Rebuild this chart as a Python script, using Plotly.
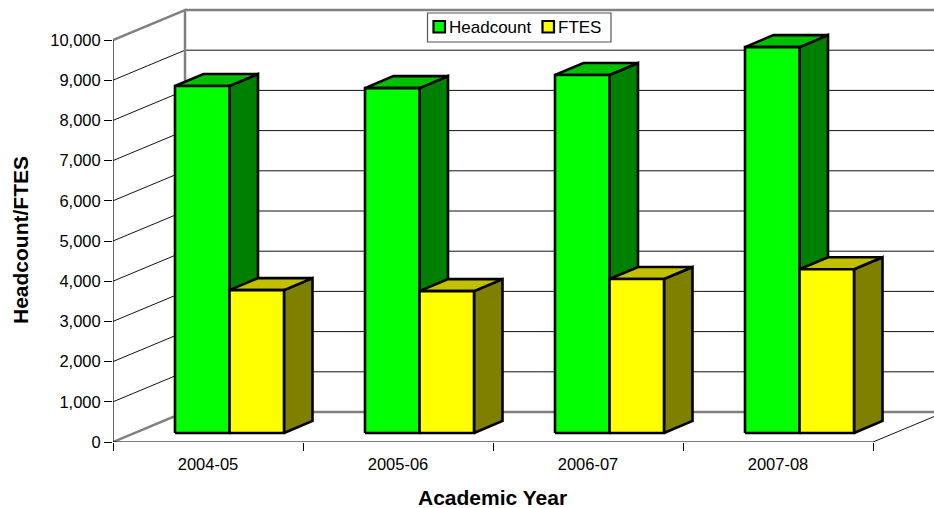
import plotly.graph_objects as go

categories = ["2004-05", "2005-06", "2006-07", "2007-08"]
headcount = [8630, 8580, 8905, 9600]
ftes = [3555, 3530, 3830, 4075]
series_names = ["Headcount", "FTES"]
y_ticks = list(range(0, 10001, 1000))

W, H = 934, 508
LEFT, BOTTOM_PX = 113, 442
PX_SLOT = 190.0
PX_UNIT = 0.0402


def ux(px):
    return px / PX_SLOT


def uy(px):
    return px / PX_UNIT


def px_x(px):
    return (px - LEFT) / (W - LEFT)


def px_y(py):
    return 1 - py / BOTTOM_PX


x_max = ux(W - LEFT)
y_max = uy(BOTTOM_PX)
wall_dx, wall_dy = ux(72), uy(30)
bar_w = ux(54.5)
bar_off = ux(62)
base = uy(9)
depth_dx, depth_dy = ux(28.5), uy(12)

fig = go.Figure()


def lines(segments, color, width, clip=True):
    xs, ys = [], []
    for seg in segments:
        xs += [p[0] for p in seg] + [None]
        ys += [p[1] for p in seg] + [None]
    fig.add_trace(go.Scatter(x=xs, y=ys, mode="lines", cliponaxis=clip,
                             line=dict(color=color, width=width, shape="linear"),
                             showlegend=False, hoverinfo="skip"))


n = len(categories)
inner = [v for v in y_ticks if v not in (y_ticks[0], y_ticks[-1])]
lines([[(0, v), (wall_dx, v + wall_dy)] for v in inner], "#111111", 1, clip=False)
lines([[(wall_dx, v + wall_dy), (n + wall_dx, v + wall_dy)] for v in inner], "#111111", 1)
lines([[(n, 0), (n + wall_dx, wall_dy)]], "#111111", 1)
lines([[(wall_dx, wall_dy), (n + wall_dx, wall_dy)],
       [(wall_dx, y_ticks[-1] + wall_dy), (n + wall_dx, y_ticks[-1] + wall_dy)]], "#808080", 2.5)
lines([[(0, 0), (wall_dx, wall_dy), (wall_dx, y_ticks[-1] + wall_dy), (0, y_ticks[-1])]],
      "#808080", 2.5, clip=False)
lines([[(0, 0), (0, y_ticks[-1])], [(0, 0), (n, 0)]], "#000000", 1.2, clip=False)


def faces(values, shift, front, top, side, name):
    fx, fy, tx, ty, sx, sy = [], [], [], [], [], []
    for i, v in enumerate(values):
        x0 = i + bar_off + shift
        x1 = x0 + bar_w
        t = base + v
        fx += [x0, x1, x1, x0, x0, None]
        fy += [base, base, t, t, base, None]
        tx += [x0, x1, x1 + depth_dx, x0 + depth_dx, x0, None]
        ty += [t, t, t + depth_dy, t + depth_dy, t, None]
        sx += [x1, x1 + depth_dx, x1 + depth_dx, x1, x1, None]
        sy += [base, base + depth_dy, t + depth_dy, t, base, None]
    for xs, ys, c in ((sx, sy, side), (tx, ty, top), (fx, fy, front)):
        fig.add_trace(go.Scatter(x=xs, y=ys, mode="lines", fill="toself", fillcolor=c, name=name,
                                 line=dict(color="#000000", width=2.6),
                                 showlegend=False, hoverinfo="skip"))


faces(headcount, 0, "#00FF00", "#00C000", "#008000", series_names[0])
faces(ftes, bar_w, "#FFFF00", "#C0C000", "#808000", series_names[1])

font = dict(family="Liberation Sans", size=16.5, color="#000000")
legend_font = dict(family="Liberation Sans", size=17, color="#000000")
title_font = dict(family="Liberation Sans", size=21, color="#000000")


def box(x0, y0, x1, y1, fill, line, width):
    return dict(type="rect", xref="paper", yref="paper", layer="above",
                x0=px_x(x0), x1=px_x(x1), y0=px_y(y0), y1=px_y(y1),
                fillcolor=fill, line=dict(color=line, width=width))


shapes = [
    box(427.5, 13, 611, 42, "#FFFFFF", "#555555", 1.2),
    box(433.5, 21, 445, 32.5, "#00FF00", "#000000", 2.2),
    box(542.5, 21, 554, 32.5, "#FFFF00", "#000000", 2.2),
]


def label(text, x, y, fnt, **kw):
    return dict(text=text, xref="paper", yref="paper", x=px_x(x), y=px_y(y),
                showarrow=False, font=fnt, yanchor="middle", **kw)


annotations = [
    label("<b>Academic Year</b>", 492, 497, title_font, xanchor="center"),
    label("<b>Headcount/FTES</b>", 21, 240, title_font, xanchor="center", textangle=-90),
    label(series_names[0], 449, 27, legend_font, xanchor="left", xshift=-2),
    label(series_names[1], 558, 27, legend_font, xanchor="left", xshift=-2),
]

fig.update_layout(
    width=W, height=H, autosize=False,
    margin=dict(l=LEFT, r=0, t=0, b=H - BOTTOM_PX, pad=0),
    paper_bgcolor="#FFFFFF", plot_bgcolor="#FFFFFF",
    font=font, showlegend=False, shapes=shapes, annotations=annotations,
    xaxis=dict(range=[0, x_max], showgrid=False, zeroline=False, showline=False,
               tickmode="array", tickvals=[i + 0.5 for i in range(n)], ticktext=categories,
               ticks="", ticklen=0, ticklabelstandoff=10, tickfont=font,
               minor=dict(tickmode="array", tickvals=list(range(n + 1)), ticks="outside",
                          ticklen=8, tickwidth=1, tickcolor="#000000", showgrid=False)),
    yaxis=dict(range=[0, y_max], showgrid=False, zeroline=False, showline=False,
               tickmode="array", tickvals=y_ticks, ticktext=[f"{v:,}" for v in y_ticks],
               ticks="outside", ticklen=8, tickwidth=1, tickcolor="#000000", tickfont=font),
)

fig.write_html("out.html", config={"displayModeBar": False},
               post_script="document.body.style.margin='0';")
